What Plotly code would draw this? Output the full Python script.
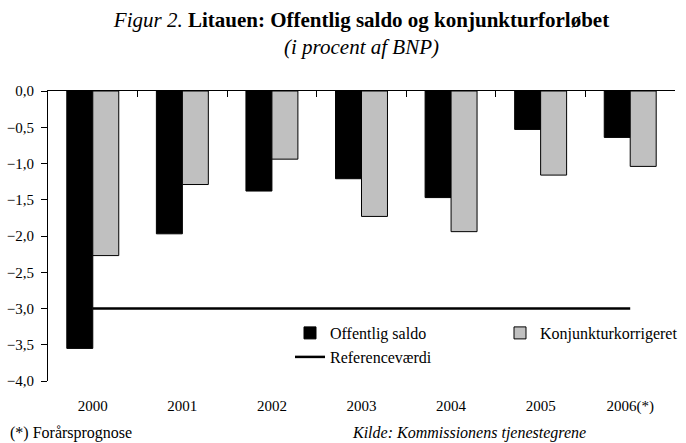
import plotly.graph_objects as go

years = ["2000", "2001", "2002", "2003", "2004", "2005", "2006(*)"]
offentlig_saldo = [-3.55, -1.97, -1.38, -1.21, -1.47, -0.53, -0.64]
konjunkturkorrigeret = [-2.27, -1.29, -0.94, -1.73, -1.94, -1.16, -1.04]
referencevaerdi = [-3.0] * len(years)
y_ticks = [0, -0.5, -1, -1.5, -2, -2.5, -3, -3.5, -4]

FONT = "Liberation Serif, Times New Roman, serif"

# plot area in pixels (for converting layout positions)
L, R, T, B = 48, 11, 91, 62
W, H = 686, 443
PW, PH = W - L - R, H - T - B


def px_x(x):
    return (x - L) / PW


def px_y(y):
    return (H - B - y) / PH


fig = go.Figure()
fig.add_trace(go.Bar(x=years, y=offentlig_saldo, name="Offentlig saldo", legend="legend",
                     marker=dict(color="black", line=dict(color="black", width=1))))
fig.add_trace(go.Bar(x=years, y=konjunkturkorrigeret, name="Konjunkturkorrigeret", legend="legend2",
                     marker=dict(color="#c0c0c0", line=dict(color="black", width=1))))
fig.add_trace(go.Scatter(x=years, y=referencevaerdi, name="Referenceværdi", mode="lines",
                         legend="legend3", line=dict(color="black", width=2.5), xaxis="x2"))

leg_common = dict(xanchor="left", yanchor="middle", bgcolor="rgba(0,0,0,0)",
                  font=dict(family=FONT, size=16), borderwidth=0)

fig.update_layout(
    width=W, height=H,
    margin=dict(l=L, r=R, t=T, b=B, autoexpand=False),
    paper_bgcolor="white", plot_bgcolor="white",
    font=dict(family=FONT, size=15, color="black"),
    separators=",.",
    barmode="group", bargap=0.42, bargroupgap=0,
    showlegend=True,
    legend=dict(x=px_x(290), y=px_y(333), **leg_common),
    legend2=dict(x=px_x(500), y=px_y(333), **leg_common),
    legend3=dict(x=px_x(290), y=px_y(357), **leg_common),
    title=dict(
        text="<i>Figur 2.</i> <b>Litauen: Offentlig saldo og konjunkturforløbet</b><br><i>(i procent af BNP)</i>",
        x=0.5, xref="paper", xanchor="center", y=1 - 27 / H, yanchor="top",
        font=dict(family=FONT, size=21)),
    xaxis=dict(type="category", categoryorder="array", categoryarray=years,
               showline=False, showgrid=False, zeroline=False, automargin=False,
               ticks="outside", ticklen=11, tickcolor="rgba(0,0,0,0)",
               tickfont=dict(size=15)),
    xaxis2=dict(type="category", categoryorder="array", categoryarray=years,
                overlaying="x", matches="x", side="top", anchor="y", automargin=False,
                showline=True, linecolor="black", linewidth=1,
                showgrid=False, zeroline=False, showticklabels=False,
                ticks="inside", ticklen=6, tickson="boundaries", tickcolor="black"),
    yaxis=dict(range=[-4, 0], tickvals=y_ticks, tickformat=".1f", automargin=False,
               showline=True, linecolor="black", linewidth=1,
               ticks="outside", ticklen=6, tickcolor="black", ticklabelstandoff=4,
               showgrid=False, zeroline=False, tickfont=dict(size=15)),
    annotations=[
        dict(text="(*) Forårsprognose", x=px_x(8), y=px_y(433), xref="paper", yref="paper",
             showarrow=False, xanchor="left", yanchor="middle", font=dict(size=16)),
        dict(text="<i>Kilde: Kommissionens tjenestegrene</i>", x=px_x(350), y=px_y(433),
             xref="paper", yref="paper", showarrow=False, xanchor="left", yanchor="middle",
             font=dict(size=16)),
    ],
)

fig.write_html("out.html", config={"displayModeBar": False},
               post_script="document.body.style.margin='0';")
